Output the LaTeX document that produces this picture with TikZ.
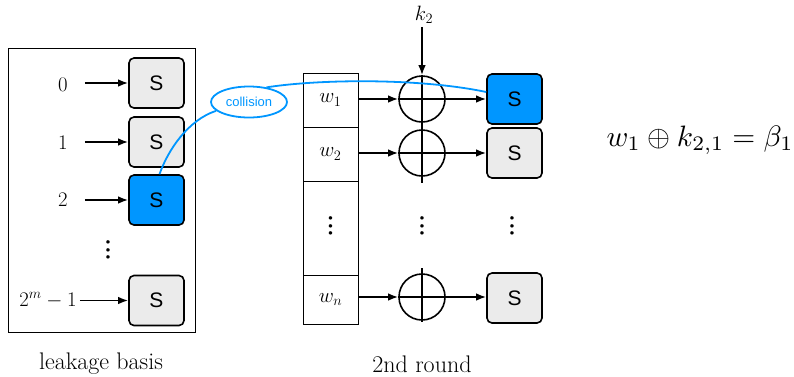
\documentclass[tikz,border=0pt]{standalone}
\usepackage{fontspec}
\newfontfamily\sfont{Liberation Sans}
\usetikzlibrary{arrows.meta,shapes.geometric}
\definecolor{cblue}{RGB}{0,150,255}
\definecolor{sgray}{RGB}{235,235,235}
\newcommand\bigdots{\vbox{\baselineskip=7.5pt\lineskiplimit=-10pt\hbox{\textbullet}\hbox{\textbullet}\hbox{\textbullet}}}
\begin{document}
\begin{tikzpicture}[x=1pt,y=-1pt,
  sbox/.style={draw,line width=1.6pt,rounded corners=5pt,fill=sgray,minimum width=55pt,minimum height=50pt,inner sep=0pt,font=\sfont\fontsize{21}{24}\selectfont},
  hot/.style={fill=cblue},
  arr/.style={line width=1.6pt,-{Latex[length=10pt,width=7.5pt]}},
  lab/.style={font=\fontsize{20.5}{24}\selectfont,inner sep=3pt},
  capt/.style={font=\fontsize{24}{28}\selectfont,inner sep=2pt},
  dts/.style={font=\fontsize{13}{14}\selectfont,inner sep=0pt},
  cell/.style={draw,line width=0.8pt,minimum width=55pt,inner sep=0pt,font=\fontsize{20.5}{24}\selectfont},
  xorc/.style={draw,circle,line width=1.6pt,minimum size=46pt,inner sep=0pt},
  col/.style={cblue,line width=1.8pt}]
\useasboundingbox (0,0) rectangle (794,376);
% left frame
\node[draw,line width=0.8pt,minimum width=187pt,minimum height=284pt,inner sep=0pt] (frame) at (101.5,190) {};
\node[sbox] (s0) at (156.5,83) {S};
\node[sbox] (s1) at (156.5,142) {S};
\node[sbox,hot] (s2) at (156.5,200) {S};
\node[sbox] (s3) at (156.5,300.5) {S};
\node[lab] (l0) at (63,85) {$0$};
\node[lab] (l1) at (63,143) {$1$};
\node[lab] (l2) at (63,200) {$2$};
\node[lab] (l3) at (48,300) {$2^m-1$};
\draw[arr,shorten <=14pt] (l0.east |- s0) -- (s0);
\draw[arr,shorten <=14pt] (l1.east |- s1) -- (s1);
\draw[arr,shorten <=14pt] (l2.east |- s2) -- (s2);
\draw[arr] (l3.east |- s3) -- (s3);
\node[dts] (ld) at (108,251) {\bigdots};
\node[capt] (cap1) at (101,364) {leakage basis};
% column
\node[cell,minimum height=54pt] (w1) at (330.5,100) {$w_1$};
\node[cell,minimum height=54pt] (w2) at (330.5,154) {$w_2$};
\node[cell,minimum height=94pt] (wd) at (330.5,228) {};
\node[dts] (cd) at (330.5,227) {\bigdots};
\node[cell,minimum height=49pt] (wn) at (330.5,299.5) {$w_n$};
% xors
\node[xorc] (x1) at (422,99) {};
\node[xorc] (x2) at (422,153) {};
\node[xorc] (x3) at (422,297) {};
\node[lab] (k2) at (424,15) {$k_2$};
\coordinate (v2end) at (422,183);
\coordinate (v3top) at (422,268);
\coordinate (v3end) at (422,322);
\draw[arr] (k2.south -| x1) -- (x1.north);
\draw[line width=1.6pt] (x1.north) -- (v2end);
\draw[line width=1.6pt] (v3top) -- (v3end);
% right S boxes
\node[sbox,hot] (r1) at (514.5,99) {S};
\node[sbox] (r2) at (514.5,153) {S};
\node[sbox] (r3) at (514.5,298) {S};
\draw[arr] (w1.east |- x1) -- (x1.west);
\draw[arr] (w2.east |- x2) -- (x2.west);
\draw[arr] (wn.east |- x3) -- (x3.west);
\draw[arr] (x1.west) -- (r1);
\draw[arr] (x2.west) -- (r2);
\draw[arr] (x3.west) -- (r3.west |- x3);
\node[dts] (xd) at (422,227) {\bigdots};
\node[dts] (rd) at (512,227) {\bigdots};
\node[capt] (cap2) at (422,364) {2nd round};
% collision
\node[draw=cblue,ellipse,line width=1.8pt,minimum width=76pt,minimum height=31pt,inner sep=0pt,text=cblue,font=\sfont\fontsize{13}{15}\selectfont] (coll) at (249,102) {collision};
\draw[col] (s2.north) ++(3,0) .. controls (168,150) and (188,120) .. (coll.-165);
\draw[col] (coll.40) .. controls (320,79) and (420,78) .. (r1.west |- 0,92);
% formula
\node[inner sep=0pt] (f) at (700,140) {\scalebox{2.95}{$w_1\oplus k_{2,1}=\beta_1$}};
\end{tikzpicture}
\end{document}
